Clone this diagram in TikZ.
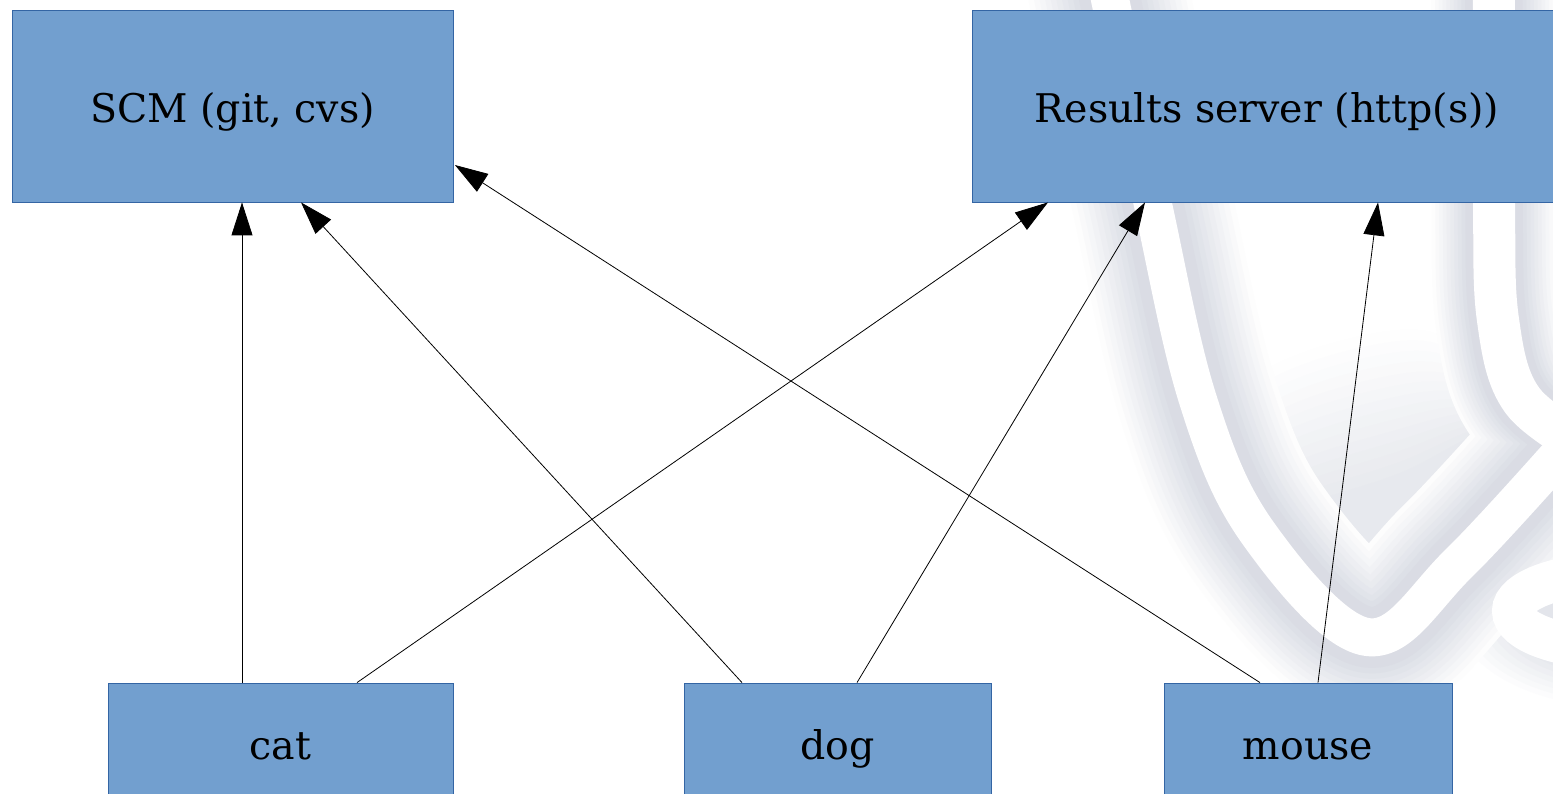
\documentclass[tikz,border=0pt]{standalone}
\usepackage{fontspec}
\setmainfont{DejaVu Serif}
\usetikzlibrary{arrows.meta,calc}
\definecolor{boxfill}{HTML}{729FCF}
\definecolor{boxline}{HTML}{3465A4}
\definecolor{wm}{HTML}{D8DBE3}
\begin{document}
\begin{tikzpicture}[x=1pt,y=-1pt,
  box/.style={draw=boxline, fill=boxfill, line width=0.8pt, inner sep=0pt,
    text height=36pt, text depth=2pt, font=\fontsize{39.5}{44}\selectfont},
  conn/.style={draw=black, line width=0.8pt, -{Triangle[length=33pt,width=21pt]}},
  wmline/.style={line cap=round, line join=round}]
\useasboundingbox (0,0) rectangle (1553,794);
\clip (0,0) rectangle (1553,794);
\fill[white] (0,0) rectangle (1553,794);
% faint watermark
\def\bandone{plot[smooth, tension=0.6] coordinates {(1104,-30) (1152,200) (1198,400) (1258,533) (1367,637) (1460,562) (1590,420)}}
\def\bandtwo{plot[smooth, tension=0.6] coordinates {(1494,-30) (1494,200) (1498,320) (1522,400) (1590,450)}}
\foreach \i in {0,...,7} {
  \pgfmathsetmacro{\p}{8+\i*9}
  \pgfmathsetmacro{\ra}{165-\i*8}
  \pgfmathsetmacro{\rb}{95-\i*5}
  \fill[wm!\p!white] (1620,612) ellipse (\ra pt and \rb pt);
}
\foreach \i in {0,...,13} {
  \pgfmathsetmacro{\p}{3+\i*4.5}
  \fill[wm!\p!white] plot[smooth cycle, tension=0.7] coordinates {(1230+\i*4,400+\i*9) (1300,520+\i*3) (1370,600) (1440,560) (1525,465) (1490,380+\i*4) (1400,330+\i*11)};
}
\foreach \i in {0,...,9} {
  \pgfmathsetmacro{\p}{6+\i*10}
  \pgfmathsetmacro{\wa}{160-\i*11}
  \pgfmathsetmacro{\wb}{125-\i*7.5}
  \draw[wm!\p!white, line width=\wa pt, wmline] \bandone;
  \draw[wm!\p!white, line width=\wb pt, wmline] \bandtwo;
}
\draw[white, line width=38pt, wmline] \bandone;
\draw[white, line width=42pt, wmline] \bandtwo;
\draw[white, line width=42pt] (1620,611) ellipse (107 and 38);
% boxes
\node[box, minimum width=441pt, minimum height=192pt] (scm) at (232.5,106) {SCM (git, cvs)};
\node[box, minimum width=590pt, minimum height=192pt] (res) at (1267,106) {Results server (http(s))};
\node[box, minimum width=345pt, minimum height=118pt] (cat) at (280.5,742) {cat};
\node[box, minimum width=307pt, minimum height=118pt] (dog) at (837.5,742) {dog};
\node[box, minimum width=288pt, minimum height=118pt] (mouse) at (1308,742) {mouse};
% connectors
\draw[conn] ([xshift=-38.5pt]cat.north) -- ([xshift=9.5pt]scm.south);
\draw[conn] ([xshift=76.5pt]cat.north) -- ([xshift=-219pt]res.south);
\draw[conn] ([xshift=-95.5pt]dog.north) -- ([xshift=68.5pt]scm.south);
\draw[conn] ([xshift=19.5pt]dog.north) -- ([xshift=-122pt]res.south);
\draw[conn] ([xshift=-48pt]mouse.north) -- ([xshift=1.5pt,yshift=-59pt]scm.east);
\draw[conn] ([xshift=10pt]mouse.north) -- ([xshift=111pt]res.south);
\end{tikzpicture}
\end{document}
